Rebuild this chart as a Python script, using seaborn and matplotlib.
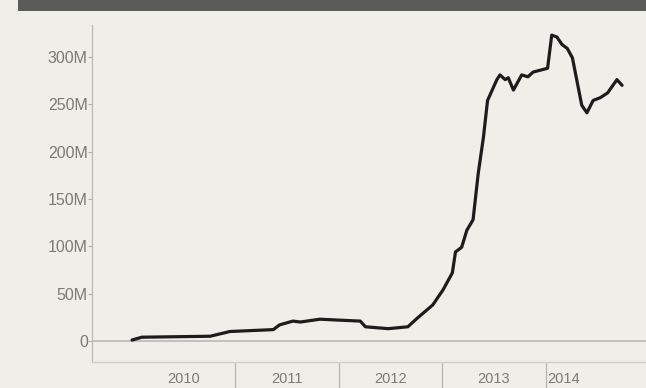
import matplotlib
matplotlib.use("Agg")
import matplotlib.pyplot as plt
import seaborn as sns
import pandas as pd
from matplotlib.patches import Rectangle
from matplotlib.ticker import FixedLocator, FixedFormatter

# decimal years
years = [2010.005, 2010.10, 2010.76, 2010.95, 2011.37, 2011.43, 2011.56, 2011.63,
         2011.82, 2012.01, 2012.21, 2012.26, 2012.48, 2012.67, 2012.76, 2012.91,
         2013.01, 2013.10, 2013.13, 2013.19, 2013.24, 2013.30, 2013.35, 2013.40,
         2013.44, 2013.53, 2013.56, 2013.61, 2013.64, 2013.69, 2013.77, 2013.83,
         2013.88, 2014.02, 2014.06, 2014.11, 2014.16, 2014.21, 2014.26, 2014.35,
         2014.40, 2014.46, 2014.53, 2014.60, 2014.69, 2014.74]
# values in millions
values = [1, 4, 5, 10, 12, 17, 21, 20,
          23, 22, 21, 15, 13, 15, 24, 38,
          54, 72, 94, 99, 117, 128, 177, 215,
          254, 276, 281, 276, 278, 265, 281, 279,
          284, 288, 323, 321, 313, 309, 299, 249,
          241, 254, 257, 262, 276, 270]

y_ticks = [0, 50, 100, 150, 200, 250, 300]
y_labels = ["0", "50M", "100M", "150M", "200M", "250M", "300M"]
year_label_pos = [2010.5, 2011.5, 2012.5, 2013.5, 2014.17]
year_labels = ["2010", "2011", "2012", "2013", "2014"]
year_bounds = [2011, 2012, 2013, 2014]

df = pd.DataFrame({"year": years, "value": values})

bg = "#efeee9"
sns.set_style("white")
plt.rcParams["font.family"] = ["Liberation Sans", "DejaVu Sans"]

fig = plt.figure(figsize=(6.46, 3.88), dpi=100, facecolor=bg)
W, H = 646, 388
ax = fig.add_axes([92 / W, 1 - 362 / H, (646 - 92) / W, (362 - 25) / H])
ax.set_facecolor(bg)

sns.lineplot(data=df, x="year", y="value", ax=ax, color="#1c1c1c", linewidth=2.3)

ax.axhline(0, color="#b9b9b6", linewidth=1.2, zorder=0)

ax.set_xlim(2009.618, 2014.971)
ax.set_ylim(-22.2, 333.7)

ax.set_yticks(y_ticks)
ax.set_yticklabels(y_labels)
ax.xaxis.set_major_locator(FixedLocator(year_label_pos))
ax.xaxis.set_major_formatter(FixedFormatter(year_labels))
ax.xaxis.set_minor_locator(FixedLocator(year_bounds))

ax.tick_params(axis="y", left=True, length=3, width=0.8, color="#b0b0ad", pad=0,
               labelsize=11.5, labelcolor="#7a7a78")
ax.tick_params(axis="x", which="both", bottom=True)
ax.tick_params(axis="x", which="major", length=0, pad=7,
               labelsize=10.5, labelcolor="#7a7a78")
ax.tick_params(axis="x", which="minor", length=19, width=0.9, color="#b5b5b2",
               direction="out")

for s in ["top", "right"]:
    ax.spines[s].set_visible(False)
ax.spines["left"].set_color("#b9b9b6")
ax.spines["left"].set_linewidth(0.9)
ax.spines["bottom"].set_color("#cfcfcc")
ax.spines["bottom"].set_linewidth(1.0)
ax.set_xlabel("")
ax.set_ylabel("")

# top banner
fig.patches.append(Rectangle((18 / W, 1 - 11 / H), 1 - 18 / W, 11 / H,
                             transform=fig.transFigure, facecolor="#5b5b5a",
                             edgecolor="none", zorder=5))

fig.savefig("out.png", dpi=100, facecolor=bg)
